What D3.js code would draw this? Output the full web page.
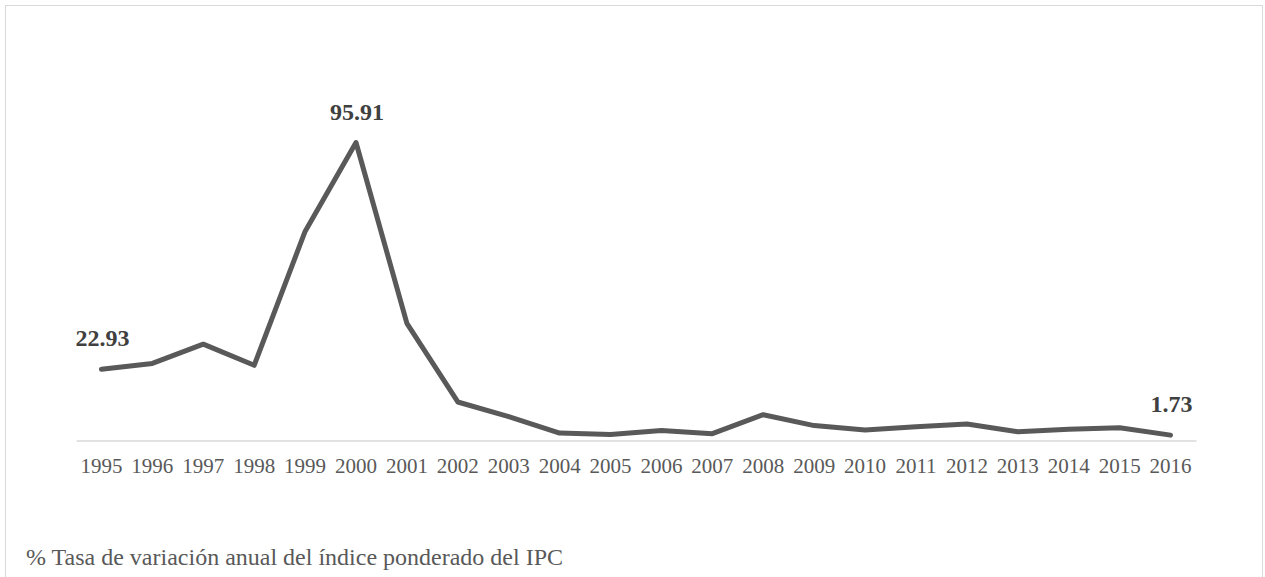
<!DOCTYPE html>
<html><head><meta charset="utf-8">
<script src="https://cdn.jsdelivr.net/npm/d3@7"></script>
<style>html,body{margin:0;padding:0;background:#fff;} svg text{font-family:"Liberation Serif","Tinos","Times New Roman","DejaVu Serif",serif;}</style>
</head><body>
<svg id="c" width="1265" height="577"></svg>
<script>
const years = ["1995","1996","1997","1998","1999","2000","2001","2002","2003","2004","2005","2006","2007","2008","2009","2010","2011","2012","2013","2014","2015","2016"];
const inflation = [22.93,24.8,31.0,24.2,67.3,95.91,37.7,12.4,7.7,2.4,1.9,3.2,2.2,8.3,4.8,3.4,4.4,5.3,2.8,3.6,4.1,1.73];
const labeledYears = ["1995","2000","2016"];
const footnote = "% Tasa de variación anual del índice ponderado del IPC";

const svg = d3.select("#c");

svg.append("rect").attr("x",5.5).attr("y",5.5).attr("width",1257).attr("height",600)
  .attr("fill","#fff").attr("stroke","#d9d9d9").attr("stroke-width",1);

const x = d3.scaleBand().domain(years).range([76,1196]);
const y = d3.scaleLinear().domain([0,95.91]).range([440.5,142.5]);

const xAxis = svg.append("g").attr("transform","translate(0,440.5)")
  .call(d3.axisBottom(x).tickSize(0).tickPadding(18));
xAxis.attr("font-family",null);
xAxis.select(".domain").attr("stroke","#d9d9d9").attr("stroke-width",1.5);
xAxis.selectAll("text").attr("font-size",21).attr("fill","#595959");

const line = d3.line().x((d,i)=>x(years[i])+x.bandwidth()/2).y(d=>y(d));
svg.append("path").datum(inflation).attr("d",line)
  .attr("fill","none").attr("stroke","#595959").attr("stroke-width",5)
  .attr("stroke-linejoin","round").attr("stroke-linecap","round");

labeledYears.forEach(yr=>{
  const i = years.indexOf(yr);
  const v = inflation[i];
  svg.append("text")
    .attr("x", x(yr)+x.bandwidth()/2 + 1)
    .attr("y", y(v) - 23)
    .attr("text-anchor","middle")
    .attr("font-size",24).attr("font-weight","bold")
    .attr("fill","#404040")
    .text(v.toFixed(2));
});

svg.append("text").attr("x",26).attr("y",565)
  .attr("font-size",24).attr("fill","#595959")
  .text(footnote);
</script>
</body></html>
